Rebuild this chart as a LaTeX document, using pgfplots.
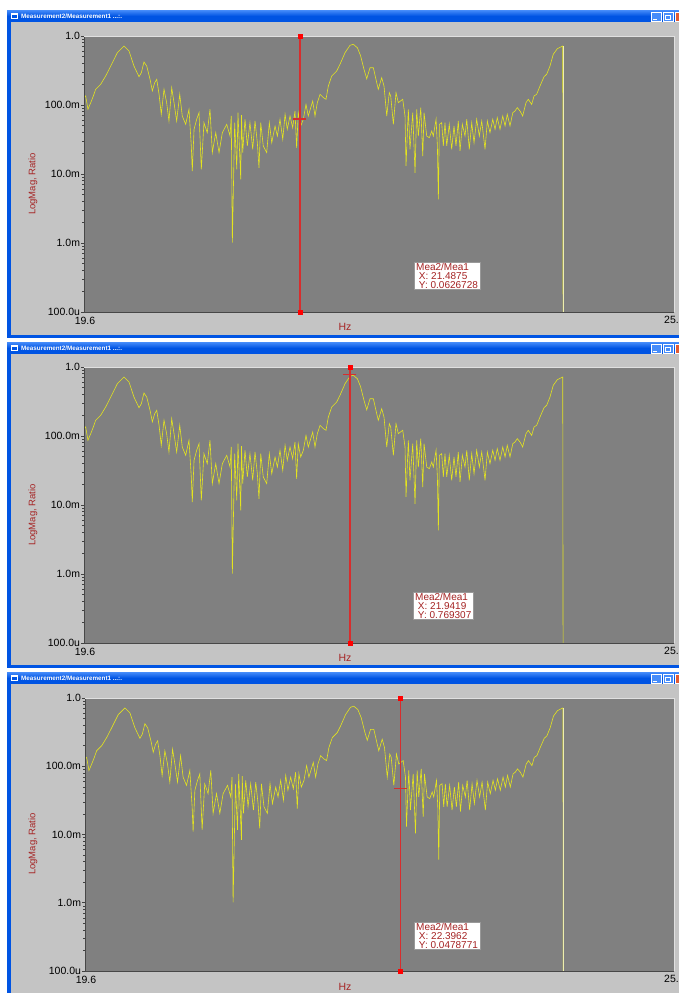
\documentclass[border=0pt]{standalone}
\usepackage{pgfplots}
\pgfplotsset{compat=1.18}
\usepackage{pgfplotstable}
\usepackage{fontspec}
\setmainfont{Liberation Sans}
\definecolor{wingray}{RGB}{196,196,196}
\definecolor{plotgray}{RGB}{128,128,128}
\definecolor{xpblue}{RGB}{0,84,227}
\definecolor{xplight}{RGB}{70,140,250}
\definecolor{lblred}{RGB}{165,35,35}
\definecolor{mkred}{RGB}{215,45,45}
\definecolor{tracey}{RGB}{228,228,30}
\definecolor{endline}{RGB}{238,238,175}

\pgfplotstableread{
x y
19.525 0.128
19.540 0.135
19.561 0.0867
19.586 0.108
19.610 0.135
19.631 0.169
19.677 0.200
19.722 0.263
19.768 0.367
19.828 0.573
19.889 0.716
19.934 0.606
19.979 0.367
20.025 0.257
20.046 0.294
20.070 0.420
20.095 0.367
20.125 0.236
20.146 0.160
20.167 0.210
20.186 0.236
20.207 0.143
20.227 0.0733
20.252 0.169
20.276 0.108
20.297 0.0586
20.322 0.178
20.343 0.108
20.367 0.0586
20.395 0.143
20.418 0.0693
20.449 0.0525
20.479 0.0867
20.500 0.0255
20.509 0.0110
20.525 0.0445
20.549 0.0621
20.570 0.0773
20.591 0.0117
20.615 0.0554
20.645 0.0397
20.670 0.0867
20.691 0.0204
20.722 0.0397
20.752 0.0204
20.782 0.0397
20.822 0.0525
20.852 0.0355
20.863 0.0693
20.873 0.00101
20.894 0.0554
20.913 0.0117
20.924 0.0773
20.949 0.00838
20.956 0.0716
20.967 0.0204
20.988 0.0621
21.009 0.0255
21.033 0.0554
21.058 0.0228
21.079 0.0586
21.100 0.0284
21.115 0.0123
21.131 0.0554
21.154 0.0255
21.185 0.0204
21.209 0.0554
21.231 0.0284
21.261 0.0496
21.282 0.0355
21.306 0.0621
21.331 0.0318
21.352 0.0733
21.372 0.0445
21.397 0.0693
21.421 0.0469
21.442 0.0818
21.457 0.0240
21.472 0.0773
21.494 0.0496
21.518 0.0621
21.542 0.102
21.563 0.0693
21.585 0.0914
21.603 0.114
21.624 0.0693
21.645 0.108
21.670 0.143
21.700 0.128
21.724 0.121
21.745 0.188
21.776 0.263
21.821 0.311
21.851 0.389
21.897 0.573
21.942 0.733
21.972 0.758
22.009 0.676
22.039 0.513
22.069 0.329
22.094 0.240
22.124 0.347
22.154 0.347
22.185 0.210
22.199 0.169
22.230 0.249
22.251 0.188
22.276 0.0693
22.299 0.151
22.312 0.135
22.336 0.0525
22.360 0.151
22.381 0.108
22.421 0.121
22.442 0.0693
22.451 0.0131
22.472 0.0867
22.487 0.0228
22.512 0.0773
22.533 0.0104
22.548 0.0867
22.563 0.0355
22.585 0.0914
22.603 0.0182
22.615 0.0773
22.639 0.0355
22.663 0.0336
22.685 0.0420
22.699 0.0355
22.724 0.0621
22.736 0.0255
22.745 0.00430
22.754 0.0525
22.775 0.0554
22.790 0.0255
22.805 0.0554
22.821 0.0255
22.844 0.0525
22.866 0.0228
22.887 0.0496
22.905 0.0255
22.926 0.0586
22.942 0.0216
22.963 0.0525
22.987 0.0355
23.003 0.0621
23.026 0.0228
23.048 0.0554
23.069 0.0284
23.093 0.0621
23.117 0.0355
23.139 0.0586
23.169 0.0228
23.190 0.0586
23.214 0.0397
23.239 0.0621
23.260 0.0445
23.280 0.0655
23.305 0.0445
23.330 0.0693
23.351 0.0496
23.371 0.0733
23.396 0.0496
23.421 0.0773
23.441 0.0818
23.462 0.0914
23.487 0.0818
23.511 0.0693
23.541 0.108
23.562 0.121
23.593 0.102
23.614 0.135
23.638 0.143
23.668 0.188
23.705 0.257
23.729 0.279
23.759 0.367
23.789 0.543
23.826 0.655
23.875 0.716
23.878 0.0001
}\tracedata

\newcommand\window[2]{%
  \begin{scope}[x=1pt,y=-1pt]
    \fill[xpblue] (7,#1) rectangle (690,#2);
    \shade[top color=xplight, bottom color=xpblue] (7,#1) rectangle (690,{#1+6});
    \fill[wingray] (11,{#1+12}) rectangle (690,{#2-3});
    \fill[white] (11,{#1+3}) rectangle (18,{#1+9});
    \fill[xpblue] (12,{#1+5}) rectangle (17,{#1+8});
    \node[anchor=west, text=white, inner sep=0, font=\bfseries\fontsize{6.3}{7}\selectfont] at (21,{#1+6.5}) {Measurement2/Measurement1 ...:.};
    \draw[white, fill=xplight, line width=0.5pt] (651,{#1+2}) rectangle (661,{#1+11});
    \draw[white, line width=1pt] (653,{#1+9}) -- (657,{#1+9});
    \draw[white, fill=xplight, line width=0.5pt] (663,{#1+2}) rectangle (673,{#1+11});
    \draw[white, line width=0.6pt] (665,{#1+5}) rectangle (670,{#1+9});
    \draw[white, fill={rgb,255:red,225;green,90;blue,50}, line width=0.5pt] (675,{#1+2}) rectangle (686,{#1+11});
  \end{scope}
}

\newcommand\borders{%
  \draw[black!72, line width=0.9pt] (rel axis cs:0,1) -- (rel axis cs:0,0) -- (rel axis cs:1,0);
  \draw[black!12, line width=0.6pt] (rel axis cs:0,1) -- (rel axis cs:1,1) -- (rel axis cs:1,0);
}

\begin{document}
\begin{tikzpicture}
\path[use as bounding box] (0,0) rectangle (679pt,-993pt);
\clip (0,0) rectangle (679pt,-993pt);
\fill[white] (0,0) rectangle (679pt,-993pt);

% ---------- window 1 ----------
\window{10}{338}
\begin{axis}[scale only axis, width=590pt, height=276pt,
    at={(84pt,-312pt)}, anchor=south west,
    xmin=19.525, xmax=24.886, ymode=log, ymin=1e-4, ymax=1,
    axis background/.style={fill=plotgray}, axis line style={draw=none},
    xtick=\empty, ytick={1e-4,1e-3,1e-2,1e-1,1},
    yticklabels={100.0u,1.0m,10.0m,100.0m,1.0},
    ytick pos=left, tick align=outside,
    major tick length=3pt, minor tick length=2pt,
    tick style={black!75, line width=0.6pt},
    yticklabel style={font=\fontsize{10.5}{12}\selectfont, inner sep=0.8pt},
    clip=false]
  \addplot[tracey, line width=0.6pt] table[x=x,y=y] {\tracedata};
  \addplot[endline, line width=0.8pt] coordinates {(23.878,0.716) (23.878,1e-4)};
  \addplot[draw=mkred, line width=1.3pt] coordinates {(21.4875,1e-4) (21.4875,1)};
  \addplot[only marks, mark=square*, mark size=1.8pt, red] coordinates {(21.4875,1e-4) (21.4875,1)};
  \addplot[only marks, mark=-, mark size=6.5pt, mkred, line width=1.2pt] coordinates {(21.4875,0.0626728)};
  \borders
\end{axis}
\node[rotate=90, text=lblred, font=\fontsize{9.5}{11}\selectfont] at (33pt,-184pt) {LogMag, Ratio};
\node[font=\fontsize{10.5}{12}\selectfont, anchor=north, inner sep=0pt] at (85pt,-317pt) {19.6};
\node[font=\fontsize{10.5}{12}\selectfont, anchor=north west, inner sep=0] at (664pt,-316pt) {25.};
\node[text=lblred, font=\fontsize{10.5}{12}\selectfont] at (345pt,-327pt) {Hz};
\node[draw=black!40, fill=white, text=lblred, anchor=north west, align=left, inner xsep=2pt, inner ysep=0.8pt,
      font=\fontsize{10}{9.2}\selectfont] at (414pt,-262pt) {Mea2/Mea1\\\ X: 21.4875\\\ Y: 0.0626728};

% ---------- window 2 ----------
\window{342}{668}
\begin{axis}[scale only axis, width=590pt, height=276pt,
    at={(84pt,-643pt)}, anchor=south west,
    xmin=19.525, xmax=24.886, ymode=log, ymin=1e-4, ymax=1,
    axis background/.style={fill=plotgray}, axis line style={draw=none},
    xtick=\empty, ytick={1e-4,1e-3,1e-2,1e-1,1},
    yticklabels={100.0u,1.0m,10.0m,100.0m,1.0},
    ytick pos=left, tick align=outside,
    major tick length=3pt, minor tick length=2pt,
    tick style={black!75, line width=0.6pt},
    yticklabel style={font=\fontsize{10.5}{12}\selectfont, inner sep=0.8pt},
    clip=false]
  \addplot[tracey, line width=0.6pt] table[x=x,y=y] {\tracedata};
  \addplot[draw=mkred, line width=1.3pt] coordinates {(21.9419,1e-4) (21.9419,1)};
  \addplot[only marks, mark=square*, mark size=1.8pt, red] coordinates {(21.9419,1e-4) (21.9419,1)};
  \addplot[only marks, mark=-, mark size=6.5pt, mkred, line width=1.2pt] coordinates {(21.9419,0.769307)};
  \borders
\end{axis}
\node[rotate=90, text=lblred, font=\fontsize{9.5}{11}\selectfont] at (33pt,-515pt) {LogMag, Ratio};
\node[font=\fontsize{10.5}{12}\selectfont, anchor=north, inner sep=0pt] at (85pt,-648pt) {19.6};
\node[font=\fontsize{10.5}{12}\selectfont, anchor=north west, inner sep=0] at (664pt,-647pt) {25.};
\node[text=lblred, font=\fontsize{10.5}{12}\selectfont] at (345pt,-658pt) {Hz};
\node[draw=black!40, fill=white, text=lblred, anchor=north west, align=left, inner xsep=2pt, inner ysep=0.8pt,
      font=\fontsize{10}{9.2}\selectfont] at (413pt,-592pt) {Mea2/Mea1\\\ X: 21.9419\\\ Y: 0.769307};

% ---------- window 3 ----------
\window{672}{1000}
\begin{axis}[scale only axis, width=589pt, height=273pt,
    at={(85pt,-971pt)}, anchor=south west,
    xmin=19.525, xmax=24.886, ymode=log, ymin=1e-4, ymax=1,
    axis background/.style={fill=plotgray}, axis line style={draw=none},
    xtick=\empty, ytick={1e-4,1e-3,1e-2,1e-1,1},
    yticklabels={100.0u,1.0m,10.0m,100.0m,1.0},
    ytick pos=left, tick align=outside,
    major tick length=3pt, minor tick length=2pt,
    tick style={black!75, line width=0.6pt},
    yticklabel style={font=\fontsize{10.5}{12}\selectfont, inner sep=0.8pt},
    clip=false]
  \addplot[tracey, line width=0.6pt] table[x=x,y=y] {\tracedata};
  \addplot[endline, line width=0.8pt] coordinates {(23.878,0.716) (23.878,1e-4)};
  \addplot[draw=mkred, line width=1.3pt] coordinates {(22.3962,1e-4) (22.3962,1)};
  \addplot[only marks, mark=square*, mark size=1.8pt, red] coordinates {(22.3962,1e-4) (22.3962,1)};
  \addplot[only marks, mark=-, mark size=6.5pt, mkred, line width=1.2pt] coordinates {(22.3962,0.0478771)};
  \borders
\end{axis}
\node[rotate=90, text=lblred, font=\fontsize{9.5}{11}\selectfont] at (33pt,-844pt) {LogMag, Ratio};
\node[font=\fontsize{10.5}{12}\selectfont, anchor=north, inner sep=0pt] at (86pt,-976pt) {19.6};
\node[font=\fontsize{10.5}{12}\selectfont, anchor=north west, inner sep=0] at (664pt,-975pt) {25.};
\node[text=lblred, font=\fontsize{10.5}{12}\selectfont] at (345pt,-987pt) {Hz};
\node[draw=black!40, fill=white, text=lblred, anchor=north west, align=left, inner xsep=2pt, inner ysep=0.8pt,
      font=\fontsize{10}{9.2}\selectfont] at (414pt,-922pt) {Mea2/Mea1\\\ X: 22.3962\\\ Y: 0.0478771};
\end{tikzpicture}
\end{document}
